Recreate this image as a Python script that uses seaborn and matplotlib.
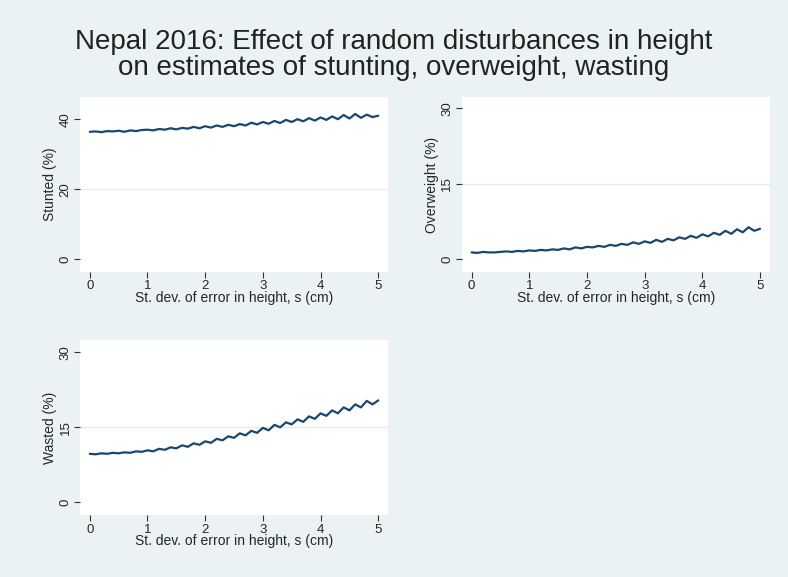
import numpy as np
import pandas as pd
import matplotlib
matplotlib.use("Agg")
import matplotlib.pyplot as plt
import seaborn as sns

sns.set_style("white")
plt.rcParams['font.family'] = ['Liberation Sans', 'DejaVu Sans']

s = [round(i * 0.1, 1) for i in range(51)]
stunted = [36.4,36.5,36.3,36.6,36.5,36.7,36.4,36.8,36.6,36.9,37.0,36.8,37.2,37.0,37.4,37.1,37.5,37.3,37.8,37.4,
           38.0,37.6,38.2,37.8,38.4,38.0,38.6,38.2,39.0,38.5,39.2,38.7,39.5,38.9,39.8,39.2,40.0,39.4,40.3,39.6,
           40.5,39.8,40.8,40.0,41.2,40.2,41.5,40.4,41.3,40.6,41.0]
overweight = [1.3,1.2,1.4,1.3,1.3,1.4,1.5,1.4,1.6,1.5,1.7,1.6,1.8,1.7,1.9,1.8,2.1,1.9,2.3,2.1,
              2.4,2.3,2.6,2.4,2.8,2.6,3.0,2.8,3.3,3.0,3.5,3.2,3.8,3.4,4.0,3.7,4.3,4.0,4.6,4.2,
              4.9,4.5,5.2,4.8,5.6,5.0,5.9,5.3,6.3,5.6,6.0]
wasted = [9.7,9.6,9.8,9.7,9.9,9.8,10.0,9.9,10.2,10.1,10.4,10.2,10.7,10.5,11.0,10.8,11.4,11.1,11.8,11.5,
          12.2,11.9,12.7,12.4,13.2,12.9,13.8,13.4,14.3,13.9,14.9,14.4,15.5,15.0,16.0,15.6,16.6,16.1,17.2,16.7,
          17.8,17.3,18.4,17.8,19.0,18.4,19.6,19.0,20.3,19.6,20.4]

df = pd.DataFrame({"s": s, "Stunted": stunted, "Overweight": overweight, "Wasted": wasted})

bg = "#eaf2f3"
navy = "#1a476f"
fig = plt.figure(figsize=(7.88, 5.77), dpi=100, facecolor=bg)
fig.text(0.5, 0.905, "Nepal 2016: Effect of random disturbances in height\non estimates of stunting, overweight, wasting",
         ha="center", va="center", fontsize=20, color="#222222", linespacing=1.0)

panels = [
    ("Stunted", "Stunted (%)", [0.1015, 0.5286, 0.391, 0.303], (-3.7, 46.3), [0, 20, 40]),
    ("Overweight", "Overweight (%)", [0.586, 0.5286, 0.391, 0.303], (-2.6, 32.2), [0, 15, 30]),
    ("Wasted", "Wasted (%)", [0.1015, 0.107, 0.391, 0.303], (-2.6, 32.4), [0, 15, 30]),
]
for col, ylab, rect, ylim, yt in panels:
    ax = fig.add_axes(rect)
    ax.set_facecolor("white")
    for t in yt[1:-1]:
        ax.axhline(t, color="#e6ecee", lw=1, zorder=0)
    sns.lineplot(data=df, x="s", y=col, ax=ax, color=navy, lw=1.6)
    ax.set_xlim(-0.17, 5.17)
    ax.set_ylim(*ylim)
    ax.set_xticks([0, 1, 2, 3, 4, 5])
    ax.set_yticks(yt)
    ax.set_yticklabels([str(t) for t in yt], rotation=90, va="center")
    for sp in ax.spines.values():
        sp.set_visible(False)
    ax.tick_params(direction="out", length=4, width=0.8, color="#333333", labelsize=9.5,
                   left=True, bottom=True, pad=2)
    ax.set_xlabel("St. dev. of error in height, s (cm)", fontsize=10, labelpad=-1)
    ax.set_ylabel(ylab, fontsize=10, labelpad=2)

fig.savefig("out.png", dpi=100, facecolor=bg)
